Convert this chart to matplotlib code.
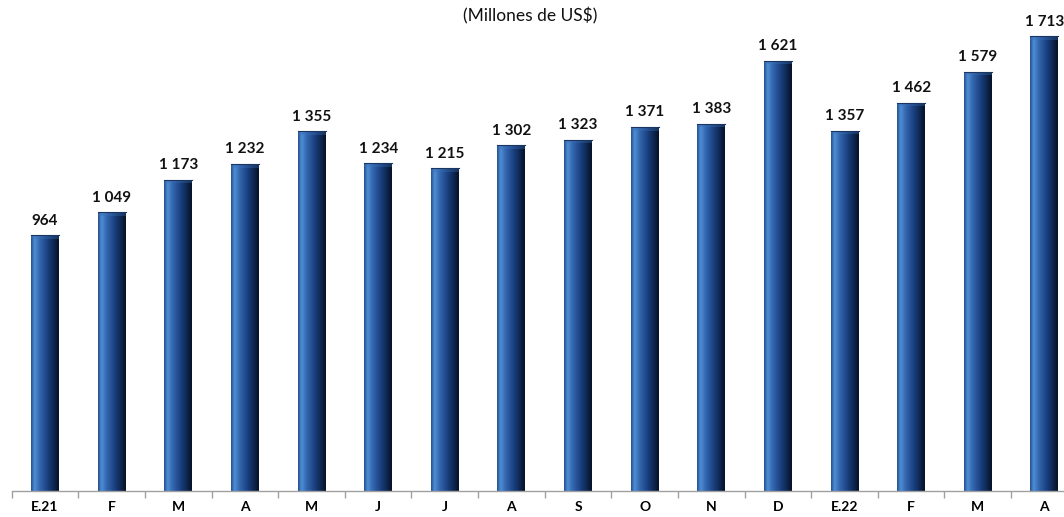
import numpy as np
import matplotlib
matplotlib.use('Agg')
import matplotlib.pyplot as plt
from matplotlib.colors import LinearSegmentedColormap

# datos
meses = ['E.21', 'F', 'M', 'A', 'M', 'J', 'J', 'A', 'S', 'O', 'N', 'D',
         'E.22', 'F', 'M', 'A']
valores = [964, 1049, 1173, 1232, 1355, 1234, 1215, 1302, 1323, 1371,
           1383, 1621, 1357, 1462, 1579, 1713]

plt.rcParams['font.family'] = ['Lato', 'DejaVu Sans']

fig = plt.figure(figsize=(10.64, 5.17), dpi=100)
ax = fig.add_axes([11.7 / 1064, 26 / 517, 1066 / 1064, 478 / 517])

x = np.arange(len(valores))
ancho = 0.42
bars = ax.bar(x, valores, width=ancho, color='none', edgecolor='none', zorder=2)

# gradiente horizontal tipo cilindro
cmap = LinearSegmentedColormap.from_list('azul', [
    (0.0, '#264f8c'), (0.12, '#4f8fd6'), (0.3, '#3468b0'),
    (0.6, '#1a4080'), (0.85, '#0d244a'), (1.0, '#061227')])
grad = np.linspace(0, 1, 64).reshape(1, -1)

for b in bars:
    x0, w, h = b.get_x(), b.get_width(), b.get_height()
    im = ax.imshow(grad, cmap=cmap, aspect='auto', extent=[x0, x0 + w, 0, h],
                   zorder=2, interpolation='bicubic')
    im.set_clip_path(b)
    # bisel superior
    ax.fill_between([x0, x0 + w], h - 14, h, color='#3a6fb5', alpha=0.35,
                    zorder=3, linewidth=0)
    ax.plot([x0, x0 + w], [h, h], color='#1a3560', lw=0.8, zorder=3)
    ax.text(x0 + w / 2, h + 28, f'{h:,.0f}'.replace(',', ' '), ha='center',
            va='bottom', fontsize=11, fontweight='bold', color='#111111')

ax.set_xlim(-0.5, len(valores) - 0.5)
ax.set_ylim(0, 1800)

ax.set_xticks(np.arange(len(valores) + 1) - 0.5, minor=False)
ax.set_xticklabels([])
ax.set_xticks(x, minor=True)
ax.set_xticklabels(meses, minor=True, fontsize=10, fontweight='bold')
ax.tick_params(axis='x', which='major', length=5, color='#a0a0a0', width=1)
ax.tick_params(axis='x', which='minor', length=0, pad=7)
ax.set_yticks([])
for s in ['top', 'right', 'left']:
    ax.spines[s].set_visible(False)
ax.spines['bottom'].set_color('#a0a0a0')
ax.spines['bottom'].set_linewidth(1)

fig.text(530 / 1064, 1 - 16 / 517, '(Millones de US$)', ha='center',
         va='center', fontsize=12.5, color='#111111')

fig.savefig('out.png', dpi=100)
